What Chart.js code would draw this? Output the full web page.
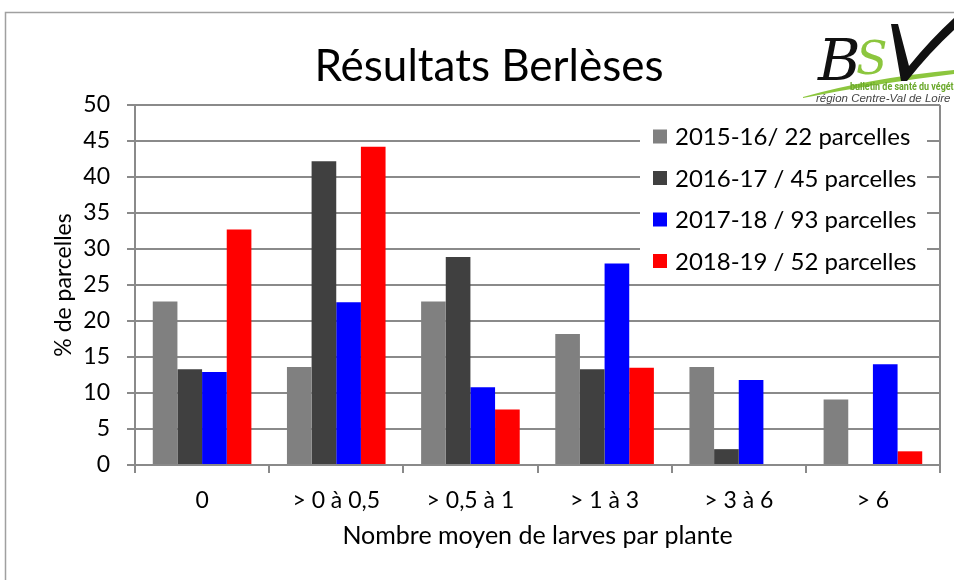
<!DOCTYPE html>
<html>
<head>
<meta charset="utf-8">
<script src="https://cdn.jsdelivr.net/npm/chart.js@4.4.1/dist/chart.umd.min.js"></script>
<style>
  html, body { margin: 0; padding: 0; background: #ffffff; }
  canvas { display: block; }
</style>
</head>
<body>
<canvas id="c" width="954" height="580"></canvas>
<script>
const categories = ["0", "> 0 à 0,5", "> 0,5 à 1", "> 1 à 3", "> 3 à 6", "> 6"];
const seriesLabels = ["2015-16/ 22 parcelles", "2016-17 / 45 parcelles", "2017-18 / 93 parcelles", "2018-19 / 52 parcelles"];
const values2015 = [22.7, 13.6, 22.7, 18.2, 13.6, 9.1];
const values2016 = [13.3, 42.2, 28.9, 13.3, 2.2, 0];
const values2017 = [12.9, 22.6, 10.8, 28.0, 11.8, 14.0];
const values2018 = [32.7, 44.2, 7.7, 13.5, 0, 1.9];
const seriesColors = ["#808080", "#404040", "#0000ff", "#ff0000"];
const yTicks = [0, 5, 10, 15, 20, 25, 30, 35, 40, 45, 50];
const chartTitle = "Résultats Berlèses";
const xTitle = "Nombre moyen de larves par plante";
const yTitle = "% de parcelles";
const logoLine1 = "bulletin de santé du végétal";
const logoLine2 = "région Centre-Val de Loire";

const FONT = "Lato, 'Open Sans', 'Liberation Sans', sans-serif";
const GRID = "#8a8a8a";

const frameAndLogo = {
  id: 'frameAndLogo',
  beforeDraw(chart) {
    const ctx = chart.ctx;
    ctx.save();
    ctx.fillStyle = '#ffffff';
    ctx.fillRect(0, 0, chart.width, chart.height);
    ctx.strokeStyle = '#a0a0a0';
    ctx.lineWidth = 1.5;
    ctx.strokeRect(5.5, 12.5, 1200, 1200);
    ctx.restore();
  },
  afterDraw(chart) {
    const ctx = chart.ctx;
    // legend box inside plot area
    ctx.save();
    const bx = 640, by = 114, bw = 287, bh = 168;
    ctx.fillStyle = '#ffffff';
    ctx.fillRect(bx, by, bw, bh);
    ctx.font = "24px " + FONT;
    ctx.textBaseline = 'middle';
    ctx.textAlign = 'left';
    chart.data.datasets.forEach((ds, i) => {
      const cy = 136.5 + i * 41.5;
      ctx.fillStyle = ds.backgroundColor;
      ctx.fillRect(653, cy - 7, 14, 14);
      ctx.fillStyle = '#000000';
      ctx.fillText(ds.label, 675, cy + 1);
    });
    ctx.restore();

    // logo
    ctx.save();
    ctx.fillStyle = '#8cc63e';
    ctx.beginPath();
    ctx.moveTo(803, 97);
    ctx.quadraticCurveTo(870, 78, 954, 70);
    ctx.lineTo(954, 74);
    ctx.quadraticCurveTo(872, 84, 803, 98);
    ctx.closePath();
    ctx.fill();
    ctx.textBaseline = 'alphabetic';
    ctx.fillStyle = '#111111';
    ctx.font = "italic 58px 'DejaVu Serif', serif";
    ctx.fillText("B", 818, 80);
    ctx.fillStyle = '#8cc63e';
    ctx.font = "italic 46px 'DejaVu Serif', serif";
    ctx.fillText("S", 856, 74);
    ctx.fillStyle = '#111111';
    ctx.beginPath();
    ctx.moveTo(891, 24);
    ctx.lineTo(898, 24);
    ctx.lineTo(909, 66);
    ctx.quadraticCurveTo(930, 40, 954, 18);
    ctx.lineTo(954, 30);
    ctx.quadraticCurveTo(930, 52, 907, 81);
    ctx.lineTo(901, 81);
    ctx.closePath();
    ctx.fill();
    ctx.fillStyle = '#6aa82a';
    ctx.font = "bold 11.5px 'Liberation Sans Narrow', 'Roboto', sans-serif";
    ctx.save();
    ctx.translate(850, 90);
    ctx.scale(0.78, 1);
    ctx.fillText(logoLine1, 0, 0);
    ctx.restore();
    ctx.fillStyle = '#444444';
    ctx.font = "italic 11.5px 'Liberation Sans', sans-serif";
    ctx.fillText(logoLine2, 816, 102);
    ctx.restore();
  }
};

const ctx = document.getElementById('c').getContext('2d');
new Chart(ctx, {
  type: 'bar',
  data: {
    labels: categories,
    datasets: [
      { label: seriesLabels[0], data: values2015, backgroundColor: seriesColors[0] },
      { label: seriesLabels[1], data: values2016, backgroundColor: seriesColors[1] },
      { label: seriesLabels[2], data: values2017, backgroundColor: seriesColors[2] },
      { label: seriesLabels[3], data: values2018, backgroundColor: seriesColors[3] }
    ]
  },
  options: {
    responsive: false,
    animation: false,
    devicePixelRatio: 1,
    layout: { padding: { left: 38, right: 14, top: 0, bottom: 0 } },
    datasets: { bar: { categoryPercentage: 0.735, barPercentage: 1.0, borderWidth: 0 } },
    plugins: {
      legend: { display: false },
      tooltip: { enabled: false },
      title: {
        display: true,
        text: chartTitle,
        color: '#000000',
        font: { family: FONT, size: 44, weight: 'normal', lineHeight: 1.2 },
        padding: { top: 40, bottom: 12.2 }
      }
    },
    scales: {
      x: {
        grid: {
          offset: true,
          drawOnChartArea: true,
          color: (c) => (c.tick ? 'rgba(0,0,0,0)' : GRID),
          tickColor: GRID,
          tickLength: 8,
          lineWidth: 2
        },
        border: { display: true, color: GRID, width: 2 },
        ticks: { color: '#000000', font: { family: FONT, size: 23 }, padding: 14, maxRotation: 0, autoSkip: false },
        title: { display: true, text: xTitle, color: '#000000', font: { family: FONT, size: 25 }, padding: { top: 4, bottom: 29 } },
        afterFit(scale) { scale.height = 115; }
      },
      y: {
        min: 0,
        max: 50,
        afterBuildTicks(scale) { scale.ticks = yTicks.map(v => ({ value: v })); },
        grid: { color: GRID, tickColor: GRID, tickLength: 8, lineWidth: 2 },
        border: { display: true, color: GRID, width: 2 },
        ticks: { color: '#000000', font: { family: FONT, size: 23 }, padding: 17 },
        title: { display: true, text: yTitle, color: '#000000', font: { family: FONT, size: 23 }, padding: { top: 11.4, bottom: 0 } },
        afterFit(scale) { scale.width = 97; }
      }
    }
  },
  plugins: [frameAndLogo]
});
</script>
</body>
</html>
